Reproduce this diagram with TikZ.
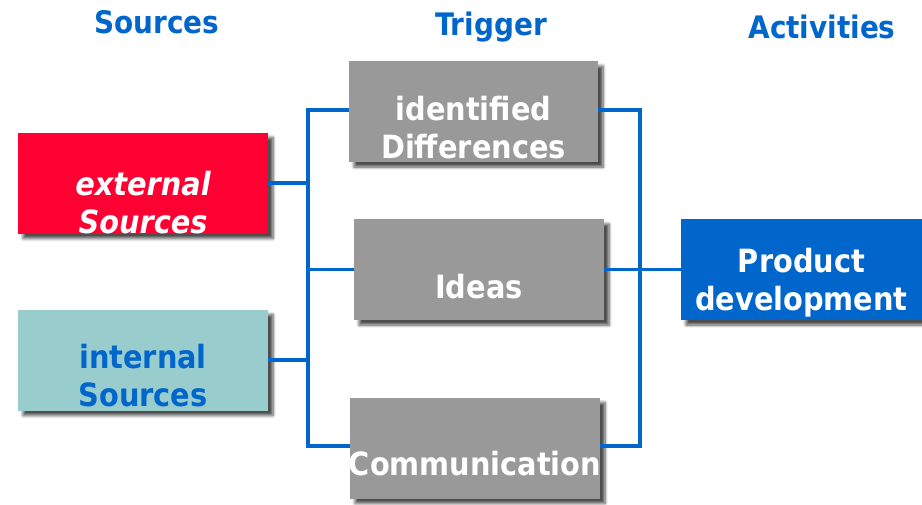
\documentclass[tikz,border=0pt]{standalone}
\usepackage{fontspec}
\setmainfont{DejaVu Sans}
\newfontfamily\condf{DejaVu Sans Condensed}
\usetikzlibrary{shadows.blur}
\definecolor{hblue}{HTML}{0066CC}
\definecolor{exred}{HTML}{FF0033}
\definecolor{inteal}{HTML}{99CCCC}
\definecolor{trgrey}{HTML}{999999}
\begin{document}
\begin{tikzpicture}[x=1pt,y=-1pt,
  box/.style={rectangle, inner sep=0pt, minimum height=101pt,
    blur shadow={shadow xshift=5pt, shadow yshift=-5pt, shadow blur steps=6, shadow blur radius=3pt, shadow opacity=70}},
  txt/.style={align=center, font=\condf\bfseries\fontsize{32}{38}\selectfont, inner sep=0pt},
  head/.style={font=\condf\bfseries\fontsize{31}{38}\selectfont, text=hblue, inner sep=0pt},
  conn/.style={draw=hblue, line width=3.5pt},
  bus/.style={draw=hblue, line width=3.5pt, line cap=rect}]
\useasboundingbox (0,0) rectangle (922,504);
% headers
\node[head] (hs) at (157,22) {Sources};
\node[head] (ht) at (491,27) {Trigger};
\node[head] (ha) at (822,27) {Activities};
% boxes
\node[box, fill=exred, minimum width=250pt] (ext) at (143,183) {};
\node[box, fill=inteal, minimum width=250pt] (int) at (143,360) {};
\node[box, fill=trgrey, minimum width=249pt] (idd) at (473.5,111.5) {};
\node[box, fill=trgrey, minimum width=250pt] (ide) at (479,269.5) {};
\node[box, fill=trgrey, minimum width=250pt] (com) at (475,448) {};
\node[box, fill=hblue, minimum width=241pt] (prd) at (801.5,269.5) {};
% texts
\node[txt, text=white, font=\condf\bfseries\itshape\fontsize{32}{38}\selectfont] (extT) at ([yshift=-20pt]ext.center) {external\\Sources};
\node[txt, text=hblue] (intT) at ([yshift=-16pt]int.center) {internal\\Sources};
\node[txt, text=white] (iddT) at ([yshift=-16pt]idd.center) {identified\\Differences};
\node[txt, text=white] (ideT) at ([yshift=-17pt]ide.center) {Ideas};
\node[txt, text=white] (comT) at ([yshift=-16pt]com.center) {Communication};
\node[txt, text=white] (prdT) at ([yshift=-13pt]prd.center) {Product\\development};
% buses
\coordinate (bl1) at (308,110);
\coordinate (bl2) at (308,446);
\coordinate (br1) at (640,110);
\coordinate (br2) at (640,446);
\draw[bus] (bl1) -- (bl2);
\draw[bus] (br1) -- (br2);
\draw[conn] (ext.east) -- (ext.east -| bl1);
\draw[conn] (int.east) -- (int.east -| bl1);
\draw[conn] (bl1) -- (idd.west |- bl1);
\draw[conn] (ide.west -| bl1) -- (ide.west);
\draw[conn] (bl2) -- (com.west |- bl2);
\draw[conn] (br1) -- (idd.east |- br1);
\draw[conn] (ide.east) -- (ide.east -| br1);
\draw[conn] (br2) -- (com.east |- br2);
\draw[conn] (prd.west -| br1) -- (prd.west);
\end{tikzpicture}
\end{document}
